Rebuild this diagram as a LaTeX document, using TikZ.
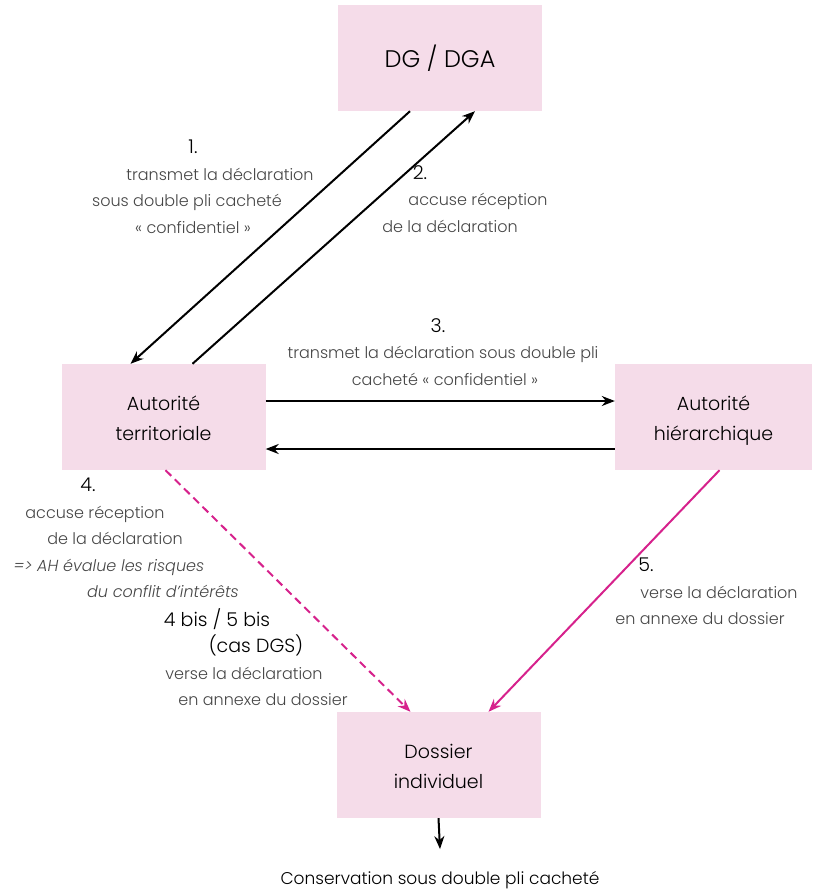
\documentclass[tikz,border=0pt]{standalone}
\usepackage{fontspec}
\IfFontExistsTF{Poppins Light}{%
  \IfFontExistsTF{Poppins Light Italic}
    {\setmainfont{Poppins Light}[ItalicFont={Poppins Light Italic}]}
    {\setmainfont{Poppins Light}}}
  {\setmainfont{Poppins}}
\usetikzlibrary{positioning, arrows.meta}
\definecolor{boxpink}{RGB}{245,220,233}
\definecolor{flowmagenta}{RGB}{214,34,140}
\definecolor{labelgrey}{RGB}{70,70,70}
% one line of a label, moved sideways by #1
\newcommand{\tline}[2]{\makebox[0pt]{\kern#1\kern#1#2}}
\newcommand{\stepno}[1]{{\color{black}\fontsize{19}{26}\selectfont #1}}
% two lines in a box
\newcommand{\boxlines}[2]{\rule{0pt}{22pt}#1\\#2\vphantom{q}}

\tikzset{
    unitbox/.style={inner sep=0pt, fill=boxpink, minimum width=204pt, minimum height=106pt,
        align=center, font=\fontsize{19}{30}\selectfont},
    flow/.style={line width=2pt, -{Stealth[length=13pt, width=10pt]}},
    steptext/.style={inner sep=0pt, align=center, text=labelgrey, font=\fontsize{16}{26.5}\selectfont}
}

\begin{document}
\begin{tikzpicture}[x=1pt, y=-1pt]
        \useasboundingbox (0,0) rectangle (812,892);

        \node (dg)   [unitbox, font=\fontsize{24}{30}\selectfont] at (440,58) {DG / DGA};
        \node (terr) [unitbox] at (163.5,417) {\boxlines{Autorité}{territoriale}};
        \node (hier) [unitbox, minimum width=197pt] at (713.5,417) {\boxlines{Autorité}{hiérarchique}};
        \node (dos)  [unitbox] at (438.5,765) {\boxlines{Dossier}{individuel}};
        \node (cons) [inner sep=0pt, font=\fontsize{17}{26}\selectfont] at (440,880) {Conservation sous double pli cacheté};

        \draw [flow] ([xshift=-30pt]dg.south)  -- ([xshift=-33pt]terr.north);
        \draw [flow] ([xshift=29pt]terr.north) -- ([xshift=35pt]dg.south);
        \draw [flow] ([yshift=16pt]terr.east)  -- ([yshift=16pt]hier.west);
        \draw [flow] ([yshift=-32pt]hier.west) -- ([yshift=-32pt]terr.east);
        \draw [flow, color=flowmagenta, dash pattern=on 8pt off 5pt] ([xshift=2pt]terr.south) -- ([xshift=-28pt]dos.north);
        \draw [flow, color=flowmagenta] ([xshift=6pt]hier.south) -- ([xshift=50pt]dos.north);
        \draw [flow] (dos.south) -- ([yshift=22pt]cons.north);

        \node (lab1) [steptext, anchor=north] at (193,140) {\tline{0pt}{\stepno{1.}}\\
            \tline{27pt}{transmet la déclaration}\\
            \tline{-6pt}{sous double pli cacheté}\\
            \tline{0pt}{« confidentiel »}};
        \node (lab2) [steptext, anchor=north] at (420,165) {\tline{0pt}{\stepno{2.}}\\
            \tline{58pt}{accuse réception}\\
            \tline{30pt}{de la déclaration}};
        \node (lab3) [steptext, anchor=north] at (440,318) {\tline{-2pt}{\stepno{3.}}\\
            \tline{3pt}{transmet la déclaration sous double pli}\\
            \tline{5pt}{cacheté « confidentiel »}};
        \node (lab4) [steptext, anchor=north] at (88,478) {\tline{0pt}{\stepno{4.}}\\
            \tline{7pt}{accuse réception}\\
            \tline{27pt}{de la déclaration}\\
            \tline{21pt}{\itshape => AH évalue les risques}\\
            \tline{75pt}{\itshape du conflit d’intérêts}};
        \node (lab4b) [steptext, anchor=north] at (217,608) {\tline{0pt}{\stepno{4 bis / 5 bis}}\\
            \tline{39pt}{\stepno{(cas DGS)}}\\
            \tline{27pt}{verse la déclaration}\\
            \tline{46pt}{en annexe du dossier}};
        \node (lab5) [steptext, anchor=north] at (646,558) {\tline{0pt}{\stepno{5.}}\\
            \tline{73pt}{verse la déclaration}\\
            \tline{54pt}{en annexe du dossier}};
\end{tikzpicture}
\end{document}
